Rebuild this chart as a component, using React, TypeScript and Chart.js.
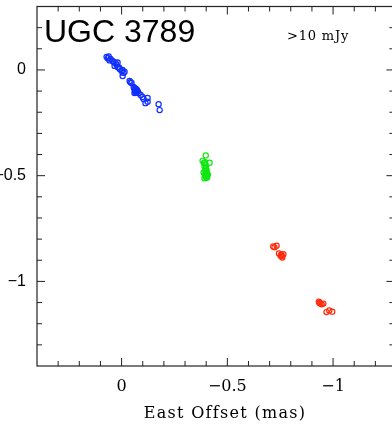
import React, { useEffect, useRef } from "react";
import { Chart, registerables } from "chart.js";

Chart.register(...registerables);

// ---- data (mas offsets) ----
const blueX = [0.071, 0.061, 0.066, 0.052, 0.057, 0.043, 0.038, 0.028, 0.019, 0.033, 0.024, 0.019, 0.009, 0.012, 0.0, -0.009, -0.005, -0.014, -0.004, -0.038, -0.047, -0.042, -0.057, -0.066, -0.062, -0.070, -0.068, -0.060, -0.073, -0.064, -0.076, -0.061, -0.080, -0.071, -0.090, -0.099, -0.104, -0.113, -0.123, -0.123, -0.175, -0.180];
const blueY = [0.062, 0.064, 0.055, 0.052, 0.045, 0.043, 0.038, 0.033, 0.035, 0.019, 0.024, 0.014, 0.005, 0.012, -0.005, -0.014, -0.029, -0.008, 0.0, -0.052, -0.062, -0.058, -0.081, -0.088, -0.095, -0.092, -0.100, -0.086, -0.096, -0.104, -0.100, -0.109, -0.109, -0.108, -0.118, -0.128, -0.138, -0.157, -0.133, -0.150, -0.162, -0.190];

const greenX = [-0.398, -0.383, -0.416, -0.397, -0.392, -0.400, -0.397, -0.402, -0.396, -0.404, -0.397, -0.403, -0.398, -0.405, -0.394, -0.401, -0.390, -0.395, -0.388, -0.408, -0.392];
const greenY = [-0.404, -0.430, -0.439, -0.447, -0.456, -0.462, -0.470, -0.475, -0.482, -0.487, -0.492, -0.497, -0.502, -0.507, -0.500, -0.510, -0.440, -0.436, -0.485, -0.495, -0.512];

const redX = [-0.717, -0.733, -0.723, -0.744, -0.755, -0.760, -0.752, -0.765, -0.758, -0.933, -0.936, -0.941, -0.954, -0.946, -0.969, -0.982, -0.996];
const redY = [-0.835, -0.831, -0.839, -0.868, -0.874, -0.887, -0.879, -0.871, -0.880, -1.096, -1.102, -1.105, -1.105, -1.108, -1.145, -1.137, -1.143];

const xTickValues = [0, -0.5, -1];
const yTickValues = [0, -0.5, -1];
const xRange = { min: -1.29, max: 0.4 };
const yRange = { min: -1.4, max: 0.3 };

const titleText = "UGC 3789";
const noteText = ">10 mJy";
const xAxisTitle = "East Offset (mas)";

const fmt = (v: number) => (v === 0 ? "0" : "\u2212" + String(Math.abs(v)));
const toPts = (xs: number[], ys: number[]) => xs.map((x, i) => ({ x, y: ys[i] }));

const zeroPad = (s: any) => {
  s.paddingTop = 0;
  s.paddingBottom = 0;
  s.paddingLeft = 0;
  s.paddingRight = 0;
};

const framePlugin = {
  id: "frame",
  afterDraw(chart: any) {
    const { ctx, chartArea: a, scales } = chart;
    const xs = scales.x;
    const ys = scales.y;
    ctx.save();
    ctx.strokeStyle = "#222";
    ctx.lineWidth = 1.2;
    ctx.strokeRect(a.left, a.top, a.right - a.left, a.bottom - a.top);
    ctx.lineWidth = 1;
    const line = (x1: number, y1: number, x2: number, y2: number) => {
      ctx.beginPath();
      ctx.moveTo(x1, y1);
      ctx.lineTo(x2, y2);
      ctx.stroke();
    };
    for (let i = -13; i <= 4; i++) {
      const px = xs.getPixelForValue(i / 10);
      if (px <= a.left + 1 || px >= a.right - 1) continue;
      const L = i % 5 === 0 ? 8 : 5;
      line(px, a.bottom, px, a.bottom - L);
      line(px, a.top, px, a.top + L);
    }
    for (let i = -14; i <= 3; i++) {
      const py = ys.getPixelForValue(i / 10);
      if (py <= a.top + 1 || py >= a.bottom - 1) continue;
      const L = i % 5 === 0 ? 8 : 5;
      line(a.left, py, a.left + L, py);
      line(a.right, py, a.right - L, py);
    }
    ctx.fillStyle = "#000";
    ctx.textBaseline = "alphabetic";
    ctx.textAlign = "left";
    ctx.font = "32px 'Liberation Sans', Arial, sans-serif";
    ctx.fillText(titleText, 44, 42);
    ctx.font = "13px 'DejaVu Serif', serif";
    (ctx as any).letterSpacing = "0.8px";
    ctx.fillText(noteText, 287, 40);
    ctx.textAlign = "center";
    ctx.font = "16px 'DejaVu Serif', serif";
    (ctx as any).letterSpacing = "1.3px";
    ctx.fillText(xAxisTitle, 225, 417.5);
    (ctx as any).letterSpacing = "0px";
    ctx.restore();
  },
};

export default function App() {
  const ref = useRef<HTMLCanvasElement>(null);
  useEffect(() => {
    if (!ref.current) return;
    const ds = (label: string, xs: number[], ys: number[], color: string) => ({
      label,
      data: toPts(xs, ys),
      borderColor: color,
      backgroundColor: "rgba(0,0,0,0)",
      pointRadius: 2.6,
      pointBorderWidth: 1.2,
      pointStyle: "circle",
      showLine: false,
    });
    const chart = new Chart(ref.current, {
      type: "scatter",
      data: {
        datasets: [
          ds("blue", blueX, blueY, "#0f2eff"),
          ds("green", greenX, greenY, "#10e610"),
          ds("red", redX, redY, "#ff2a0a"),
        ],
      },
      options: {
        animation: false,
        responsive: false,
        devicePixelRatio: 1,
        layout: { padding: { top: 6.5, right: 5.6, bottom: 0, left: 0 } },
        plugins: { legend: { display: false }, tooltip: { enabled: false }, title: { display: false } },
        scales: {
          x: {
            type: "linear",
            position: "bottom",
            reverse: true,
            min: xRange.min,
            max: xRange.max,
            grid: { display: false, drawTicks: false },
            border: { display: false },
            afterBuildTicks: (s: any) => {
              s.ticks = xTickValues.map((v) => ({ value: v }));
            },
            afterFit: (s: any) => {
              s.height = 58;
              zeroPad(s);
            },
            ticks: {
              padding: 11,
              color: "#000",
              maxRotation: 0,
              minRotation: 0,
              autoSkip: false,
              font: { family: "'DejaVu Serif', serif", size: 16 },
              callback: (v: any) => fmt(Number(v)),
            },
          },
          y: {
            type: "linear",
            position: "left",
            min: yRange.min,
            max: yRange.max,
            grid: { display: false, drawTicks: false },
            border: { display: false },
            afterBuildTicks: (s: any) => {
              s.ticks = yTickValues.map((v) => ({ value: v }));
            },
            afterFit: (s: any) => {
              s.width = 37;
              zeroPad(s);
            },
            ticks: {
              padding: 11,
              color: "#000",
              autoSkip: false,
              font: { family: "'Liberation Sans', Arial, sans-serif", size: 16 },
              callback: (v: any) => fmt(Number(v)),
            },
          },
        },
      },
      plugins: [framePlugin],
    } as any);
    return () => chart.destroy();
  }, []);
  return (
    <div style={{ position: "fixed", left: 0, top: 0, width: 392, height: 424, overflow: "hidden", background: "#fff" }}>
      <canvas ref={ref} width={400} height={424} style={{ display: "block", width: 400, height: 424 }} />
    </div>
  );
}
